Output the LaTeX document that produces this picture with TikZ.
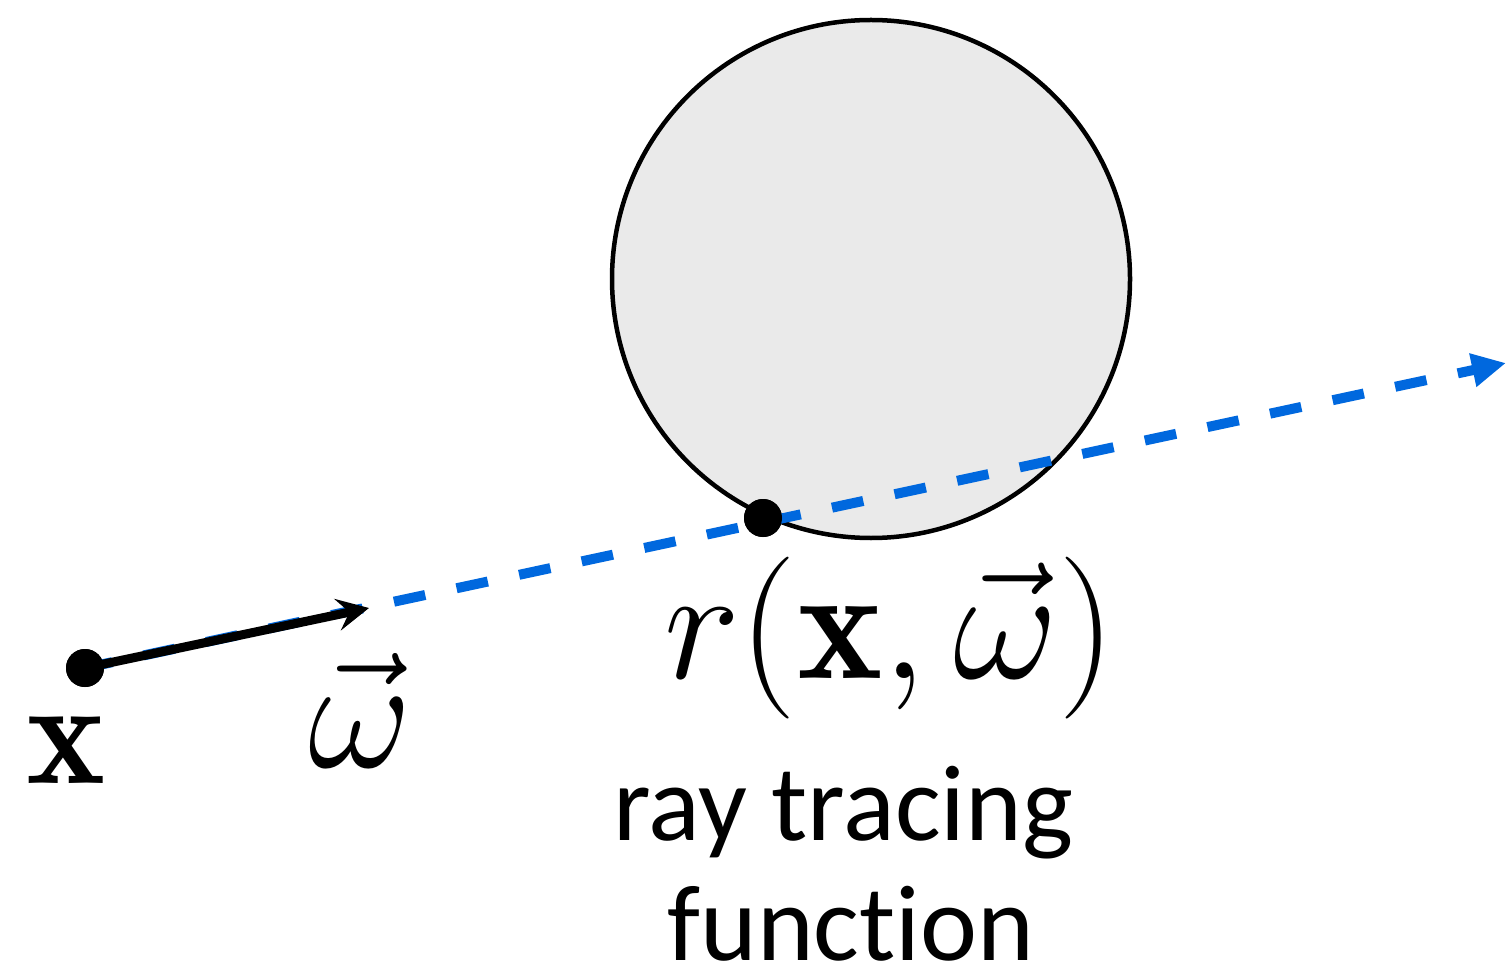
\RequirePackage{fix-cm}
\documentclass[tikz,border=0pt]{standalone}
\usepackage{fontspec}
\newfontfamily\calib[Ligatures=NoCommon]{Carlito}
\usetikzlibrary{arrows.meta}
\definecolor{rayblue}{RGB}{0,104,222}
\definecolor{spherefill}{RGB}{234,234,234}
\tikzset{
  dot/.style={circle,fill=black,inner sep=0pt,minimum size=38pt},
  ray/.style={draw=rayblue,line width=10pt,dash pattern=on 32pt off 32pt,dash phase=4pt,
    -{Triangle[length=34pt,width=32pt]}},
  dirarrow/.style={draw=black,line width=9pt,-{Stealth[length=32pt,width=32pt,inset=12pt]}},
  lbl/.style={inner sep=0pt,anchor=base}
}
\begin{document}
\begin{tikzpicture}[x=1pt,y=-1pt]
\useasboundingbox (0,0) rectangle (1507,965);
\node[circle,draw=black,line width=4.5pt,fill=spherefill,inner sep=0pt,minimum size=518pt] (sphere) at (871,279) {};
\coordinate (tip) at (1506,363);
\coordinate (wend) at (369,608);
\node[dot] (xp) at (85,668) {};
\node[dot] (hit) at (763,518) {};
\draw[ray] (xp.center) -- (tip);
\draw[dirarrow] (xp.center) -- (wend);
\node[dot] at (xp) {};
\node[dot] at (hit) {};
\node[lbl] (xlbl) at (66,783) {\fontsize{150}{160}\selectfont $\mathbf{x}$};
\node[lbl] (wlbl) at (360,767) {\fontsize{160}{170}\selectfont $\vec{\omega}$};
\node[lbl] (rlbl) at (890,678) {\fontsize{162}{170}\selectfont $r(\mathbf{x},\vec{\omega})$};
\node[lbl] (t1) at (843,840) {\calib\fontsize{108}{120}\selectfont ray tracing};
\node[lbl] (t2) at (851,960) {\calib\fontsize{108}{120}\selectfont function};
\end{tikzpicture}
\end{document}
